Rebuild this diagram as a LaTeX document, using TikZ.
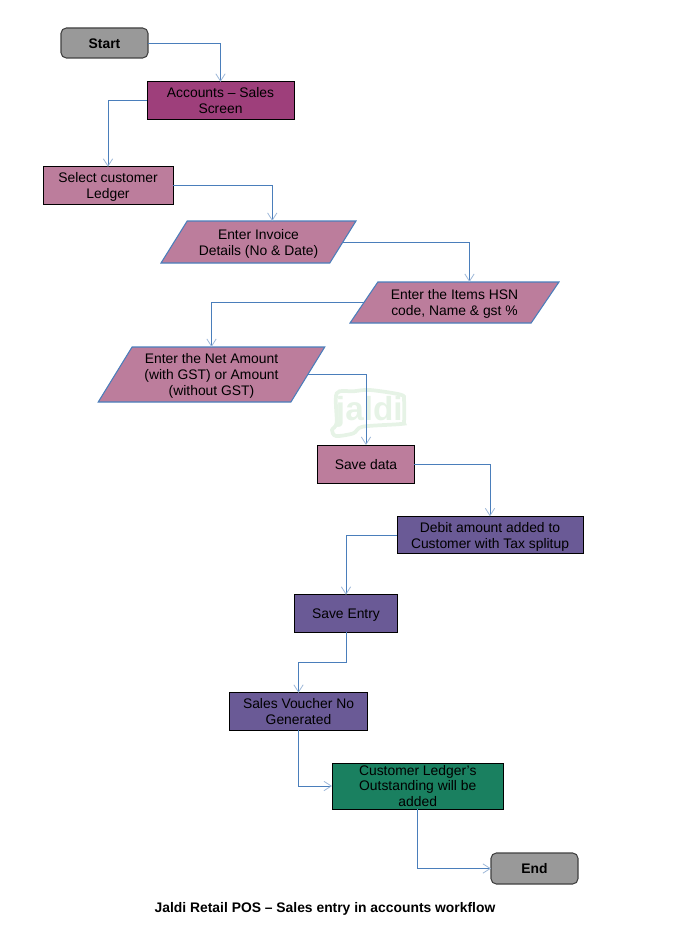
\documentclass[tikz,border=0pt]{standalone}
\usepackage{fontspec}
\setmainfont{Liberation Sans}
\usetikzlibrary{positioning,arrows.meta,shapes.geometric}
\definecolor{flowBlue}{HTML}{4A7EBB}
\definecolor{tipBlue}{HTML}{9DB7D8}
\definecolor{termGray}{HTML}{999999}
\definecolor{screenPlum}{HTML}{9E3F7B}
\definecolor{entryRose}{HTML}{BC7D9C}
\definecolor{postViolet}{HTML}{6A5A96}
\definecolor{ledgerGreen}{HTML}{1A8060}
\definecolor{markGreen}{HTML}{E6F3E6}
\newcommand{\dn}[1]{\rule{0pt}{#1pt}}
\tikzset{
  on grid,
  every node/.style={outer sep=0pt, inner sep=0pt},
  txt/.style={font=\fontsize{10.4}{12}\selectfont, align=center},
  term/.style={txt, draw=black!75, thick, rounded corners=4pt, fill=termGray,
               font=\fontsize{10.4}{12}\selectfont\bfseries, minimum width=65.25pt, minimum height=22.5pt},
  proc/.style={txt, draw=black, line width=.7pt, minimum height=28pt},
  para/.style={txt, draw=flowBlue, line width=.8pt, fill=entryRose, trapezium,
               trapezium stretches=true},
  flow/.style={-{Straight Barb[length=5.5pt,width=7pt,color=tipBlue]}, flowBlue, semithick},
}
\begin{document}
\begin{tikzpicture}
  \useasboundingbox (0,0) rectangle (516pt,-703.5pt);
  % watermark
  \draw[markGreen, line width=2.8pt, x=1pt, y=1pt] plot[smooth cycle, tension=.5] coordinates
    {(252.5,-295) (265,-293.5) (277.5,-292.5) (300.5,-296) (303,-300) (303,-316) (300.5,-318)
     (272,-320) (265,-325) (252,-327) (249,-322.5) (252.5,-317)};
  \node[text=markGreen, font=\fontsize{25}{25}\selectfont\bfseries] (mark) at (277pt,-309pt) {jaldi};

  \node[term] (st) at (78.375pt,-32.25pt) {\dn{8.8}Start};
  \node[proc, fill=screenPlum, minimum width=110.25pt, below right=43.125pt and 87pt of st] (acc) {Accounts -- Sales\\Screen};
  \node[proc, fill=entryRose, minimum width=97.5pt, below left=63.75pt and 84.375pt of acc] (sel) {\dn{9.5}Select customer\\Ledger};
  \node[para, minimum width=146.25pt, minimum height=31.5pt, trapezium left angle=56.3, trapezium right angle=123.7,
        below right=42.375pt and 112.875pt of sel] (inv) {\dn{10.5}Enter Invoice\\Details (No \& Date)};
  \node[para, minimum width=156.75pt, minimum height=30.75pt, trapezium left angle=53.8, trapezium right angle=126.2,
        below right=45.375pt and 147pt of inv] (itm) {\dn{9.5}Enter the Items HSN\\code, Name \& gst \%};
  \node[para, minimum width=170.25pt, minimum height=41.25pt, trapezium left angle=59, trapezium right angle=121,
        below left=54pt and 182.25pt of itm] (net) {\dn{9.5}Enter the Net Amount\\(with GST) or Amount\\(without GST)};
  \node[proc, fill=entryRose, minimum width=72.4pt, minimum height=28.5pt, below right=67.125pt and 115.875pt of net] (sav) {\dn{8.8}Save data};
  \node[proc, fill=postViolet, minimum width=139.5pt, below right=53.25pt and 93pt of sav] (deb) {\dn{10.5}Debit amount added to\\Customer with Tax splitup};
  \node[proc, fill=postViolet, minimum width=76.9pt, below left=58.875pt and 108pt of deb] (ent) {\dn{10}Save Entry};
  \node[proc, fill=postViolet, minimum width=103.5pt, below left=73.5pt and 35.625pt of ent] (vou) {Sales Voucher No\\Generated};
  \node[proc, fill=ledgerGreen, minimum width=128.6pt, minimum height=34.5pt, font=\fontsize{10.4}{11.5}\selectfont,
        below right=55.875pt and 89.4375pt of vou] (cus) {Customer Ledger's\\Outstanding will be\\added};
  \node[term, minimum height=23.25pt, below right=61.875pt and 87.5625pt of cus] (en) {End};
  \node[txt, font=\fontsize{10.4}{12}\selectfont\bfseries, below left=28.875pt and 157.125pt of en] (ttl) {\dn{10.5}Jaldi Retail POS -- Sales entry in accounts workflow};

  \draw[flow] (st.east) -| (acc.north);
  \draw[flow] (acc.west) -| (sel.north);
  \draw[flow] (sel.east) -| ([xshift=.5pt]inv.top side);
  \draw[flow] (inv.right side) -| ([xshift=.8pt]itm.top side);
  \draw[flow] (itm.left side) -| (net.north);
  \draw[flow] (net.right side) -| (sav.north);
  \draw[flow] (sav.east) -| (deb.north);
  \draw[flow] (deb.west) -| (ent.north);
  \draw[flow] (ent.south) -- ++(0,-22.5pt) -| (vou.north);
  \draw[flow] (vou.south) |- (cus.west);
  \draw[flow] (cus.south) |- (en.west);
\end{tikzpicture}
\end{document}
